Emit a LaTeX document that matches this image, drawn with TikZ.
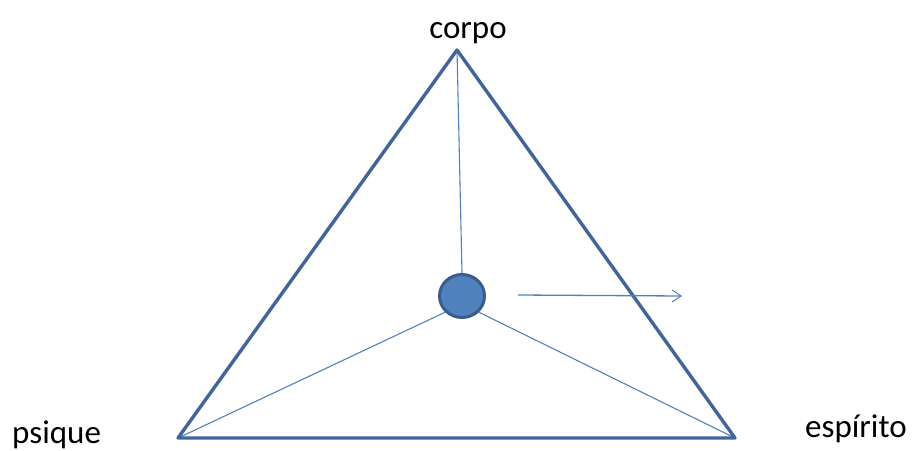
\documentclass[tikz,border=0pt]{standalone}
\usepackage{fontspec}
\setmainfont{Carlito}
\usetikzlibrary{arrows.meta, positioning, shapes.geometric}
\definecolor{cedge}{HTML}{41659A}
\definecolor{cline}{HTML}{4F81BD}
\definecolor{cring}{HTML}{385D8A}
\tikzset{
  every picture/.style={x=1pt, y=-1pt},
  side/.style={draw=cedge, line width=3.4pt, line join=round},
  spoke/.style={draw=cline, line width=1.1pt},
  label/.style={font=\fontsize{33}{36}\selectfont, inner sep=0pt, anchor=base},
  dot/.style={ellipse, draw=cring, fill=cline, line width=3pt, minimum width=45pt, minimum height=43pt, inner sep=0pt},
  arrow/.style={-{Straight Barb[length=9pt, width=12pt, line width=1pt]}, draw=cline, line width=1.3pt},
}

\begin{document}
\begin{tikzpicture}
  \useasboundingbox (0,0) rectangle (912,450);
  % corners of the triangle and the centre
  \coordinate (top) at (457,50);
  \coordinate (left) at (178,438);
  \coordinate (right) at (735,438);
  \node[dot] (mid) at (462,296) {};
  \draw[spoke] (mid.north) -- (top);
  \draw[spoke] (mid.south west) -- (left);
  \draw[spoke] (mid.south east) -- (right);
  \draw[side] (top) -- (left) -- (right) -- cycle;
  % movement to the right
  \coordinate (from) at (518,295);
  \coordinate (to) at (682,296);
  \draw[arrow] (from) -- (to);
  \node[label] (corpo) at (468,38) {corpo};
  \node[label, anchor=base west] (psique) at (12,443) {psique};
  \node[label, anchor=base west] (espirito) at (805,437) {espírito};
\end{tikzpicture}
\end{document}
